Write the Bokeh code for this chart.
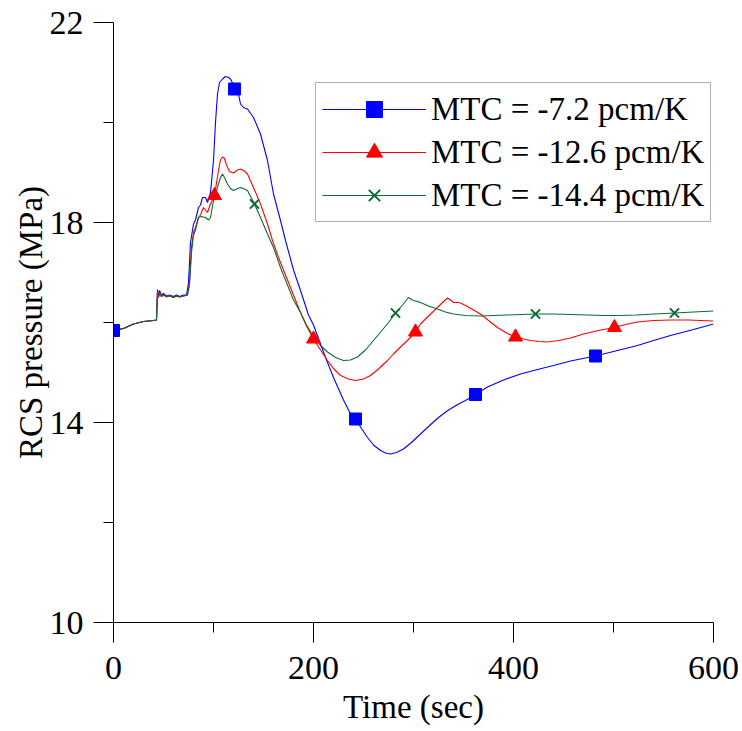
from bokeh.plotting import figure
from bokeh.models import FixedTicker, Legend, LegendItem, Range1d
from bokeh.embed import file_html
from bokeh.resources import INLINE

# ---------------- data ----------------
t_blue = [0, 10, 20, 30, 40, 43, 44, 45, 46, 48, 50, 53, 56, 60, 63, 66, 70, 73, 75, 77, 80, 82, 85, 87, 89,
          92, 94, 97, 100, 102, 104, 106, 109, 112, 115, 117, 120, 122, 125, 127, 130, 134, 140, 147, 154,
          160, 167, 172, 180, 187, 195, 200, 207, 213, 220, 230, 237, 242, 248, 254, 260, 267, 272, 277,
          283, 290, 298, 307, 315, 325, 335, 345, 352, 362, 374, 390, 407, 424, 440, 457, 482, 500, 524,
          540, 557, 580, 600]
p_blue = [15.84, 15.88, 15.97, 16.02, 16.04, 16.05, 16.66, 16.5, 16.64, 16.55, 16.58, 16.53, 16.55, 16.52,
          16.55, 16.52, 16.55, 16.55, 16.8, 17.6, 17.97, 18.05, 18.3, 18.35, 18.5, 18.5, 18.4, 18.6, 19.24,
          20.0, 20.57, 20.8, 20.87, 20.92, 20.9, 20.87, 20.75, 20.67, 20.57, 20.37, 20.3, 20.27, 20.1,
          19.77, 19.24, 18.57, 18.04, 17.64, 17.05, 16.64, 16.15, 15.95, 15.57, 15.25, 14.9, 14.45, 14.17,
          14.07, 13.88, 13.7, 13.55, 13.44, 13.39, 13.37, 13.4, 13.47, 13.6, 13.77, 13.92, 14.1, 14.25,
          14.37, 14.44, 14.56, 14.71, 14.85, 14.97, 15.06, 15.14, 15.23, 15.33, 15.42, 15.54, 15.64, 15.74,
          15.86, 15.97]

t_red = [0, 10, 20, 30, 40, 43, 44, 45, 46, 48, 50, 53, 56, 60, 63, 66, 70, 74, 76, 78, 80, 82, 85, 87, 90,
         92, 94, 97, 101, 105, 107, 109, 111, 113, 116, 120, 124, 127, 131, 134, 140, 147, 154, 159, 165,
         172, 180, 187, 193, 200, 207, 214, 220, 227, 235, 242, 250, 257, 265, 274, 280, 287, 295, 302,
         307, 315, 324, 330, 334, 337, 340, 344, 347, 353, 360, 367, 375, 384, 393, 402, 410, 417, 425,
         434, 445, 457, 470, 485, 501, 512, 524, 540, 557, 575, 600]
p_red = [15.84, 15.88, 15.97, 16.02, 16.04, 16.05, 16.6, 16.5, 16.6, 16.53, 16.56, 16.52, 16.54, 16.5,
         16.53, 16.51, 16.53, 16.55, 16.8, 17.5, 17.8, 17.9, 18.1, 18.15, 18.3, 18.25, 18.2, 18.37, 18.54,
         19.04, 19.25, 19.31, 19.28, 19.15, 19.02, 18.99, 19.05, 19.07, 19.03, 18.97, 18.7, 18.37, 17.97,
         17.64, 17.3, 16.95, 16.55, 16.2, 15.93, 15.67, 15.45, 15.24, 15.08, 14.94, 14.87, 14.84, 14.87,
         14.94, 15.07, 15.24, 15.37, 15.51, 15.66, 15.81, 15.97, 16.13, 16.3, 16.42, 16.49, 16.45, 16.4,
         16.4, 16.39, 16.33, 16.25, 16.17, 16.04, 15.9, 15.79, 15.71, 15.67, 15.64, 15.62, 15.61, 15.64,
         15.69, 15.77, 15.84, 15.9, 15.96, 16.01, 16.04, 16.05, 16.05, 16.03]

t_green = [0, 10, 20, 30, 40, 43, 44, 46, 48, 50, 53, 56, 60, 63, 66, 70, 74, 76, 78, 80, 82, 85, 88, 92,
           95, 97, 100, 105, 107, 109, 111, 114, 117, 120, 124, 127, 131, 134, 141, 147, 154, 160, 167,
           174, 180, 187, 193, 200, 207, 214, 222, 230, 237, 244, 252, 260, 268, 275, 282, 289, 295, 298,
           300, 304, 307, 315, 324, 332, 340, 352, 367, 380, 394, 408, 422, 440, 457, 474, 490, 506, 523,
           541, 561, 580, 600]
p_green = [15.84, 15.88, 15.97, 16.02, 16.04, 16.05, 16.6, 16.55, 16.52, 16.55, 16.51, 16.53, 16.5, 16.53,
           16.51, 16.53, 16.55, 16.75, 17.4, 17.75, 17.85, 18.1, 18.12, 18.1, 18.05, 18.1, 18.44, 18.77,
           18.9, 18.97, 18.9, 18.77, 18.68, 18.64, 18.68, 18.7, 18.67, 18.64, 18.37, 18.1, 17.77, 17.5,
           17.1, 16.75, 16.45, 16.2, 15.95, 15.72, 15.54, 15.41, 15.3, 15.24, 15.25, 15.31, 15.45, 15.64,
           15.83, 16.0, 16.19, 16.35, 16.5, 16.46, 16.44, 16.42, 16.4, 16.33, 16.27, 16.21, 16.17, 16.14,
           16.13, 16.14, 16.15, 16.16, 16.17, 16.17, 16.16, 16.15, 16.14, 16.14, 16.15, 16.17, 16.19,
           16.21, 16.23]

# marker positions
mt_blue = [0, 121, 242, 362, 482]
mp_blue = [15.84, 20.67, 14.07, 14.56, 15.33]
mt_red = [101, 200, 302, 402, 501]
mp_red = [18.54, 15.67, 15.81, 15.71, 15.9]
mt_green = [141, 282, 422, 561]
mp_green = [18.37, 16.19, 16.17, 16.19]

labels = ["MTC = -7.2 pcm/K", "MTC = -12.6 pcm/K", "MTC = -14.4 pcm/K"]
x_major = [0, 200, 400, 600]
x_minor = [100, 300, 500]
y_major = [10, 14, 18, 22]
y_minor = [12, 16, 20]

BLUE = "#0000FF"
RED = "#FF0000"
GREEN = "#0B6B34"
FONT = "'Liberation Serif', 'Times New Roman', serif"

p = figure(width=742, height=731, output_backend="svg", toolbar_location=None,
           x_range=Range1d(0, 600), y_range=Range1d(10, 22),
           min_border_left=113, min_border_right=29, min_border_top=22, min_border_bottom=109)
p.outline_line_color = None
p.xgrid.visible = False
p.ygrid.visible = False
p.background_fill_color = "white"
p.border_fill_color = "white"

lb = p.line(t_blue, p_blue, line_color=BLUE, line_width=1.1)
lr = p.line(t_red, p_red, line_color=RED, line_width=1.1)
lg = p.line(t_green, p_green, line_color=GREEN, line_width=1.1)

sb = p.scatter(mt_blue, mp_blue, marker="square", size=12, fill_color=BLUE, line_color=BLUE)
sr = p.scatter(mt_red, mp_red, marker="triangle", size=14, fill_color=RED, line_color=RED)
sg = p.scatter(mt_green, mp_green, marker="x", size=13, line_color=GREEN, line_width=2)

for ax, maj, mnr in ((p.xaxis[0], x_major, x_minor), (p.yaxis[0], y_major, y_minor)):
    ax.ticker = FixedTicker(ticks=maj, minor_ticks=mnr)
    ax.axis_line_color = "black"
    ax.axis_line_width = 1
    ax.major_tick_line_color = "black"
    ax.minor_tick_line_color = "black"
    ax.major_tick_in = 0
    ax.major_tick_out = 20
    ax.minor_tick_in = 0
    ax.minor_tick_out = 10
    ax.major_label_text_font = FONT
    ax.major_label_text_font_size = "34px"
    ax.major_label_text_color = "black"
    ax.axis_label_text_font = FONT
    ax.axis_label_text_font_size = "33px"
    ax.axis_label_text_font_style = "normal"
    ax.axis_label_text_color = "black"

p.xaxis.axis_label = "Time (sec)"
p.yaxis.axis_label = "RCS pressure (MPa)"
p.xaxis.major_label_standoff = 14
p.yaxis.major_label_standoff = 10
p.xaxis.axis_label_standoff = 7
p.yaxis.axis_label_standoff = -2

legend = Legend(items=[LegendItem(label=labels[0], renderers=[lb, sb]),
                       LegendItem(label=labels[1], renderers=[lr, sr]),
                       LegendItem(label=labels[2], renderers=[lg, sg])],
                location=(202, 400))
legend.label_text_font = FONT
legend.label_text_font_size = "33px"
legend.label_text_color = "black"
legend.glyph_width = 104
legend.glyph_height = 40
legend.label_height = 40
legend.label_standoff = 5
legend.spacing = 3
legend.padding = 6
legend.margin = 0
legend.border_line_color = "#666666"
legend.border_line_width = 1
legend.background_fill_color = "white"
legend.background_fill_alpha = 1
p.add_layout(legend)

open("out.html", "w").write(file_html(p, INLINE))
